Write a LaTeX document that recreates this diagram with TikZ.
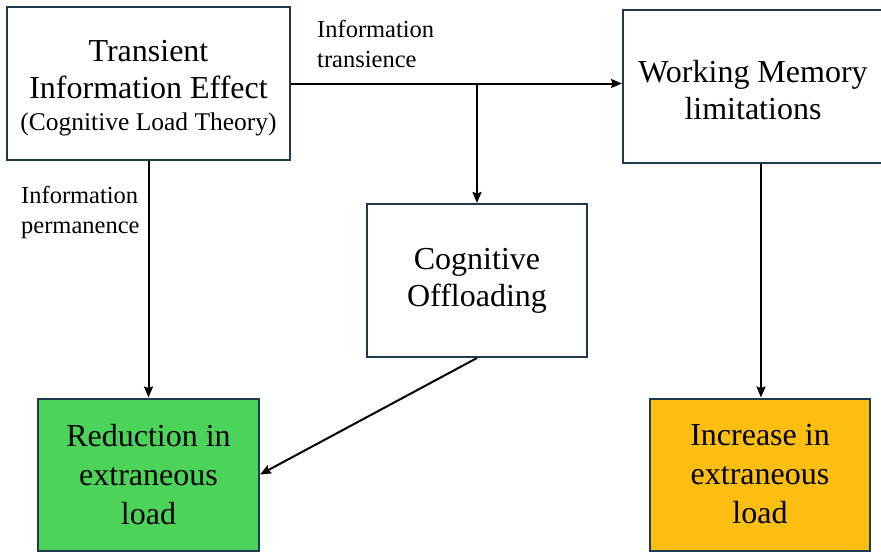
\documentclass[tikz,border=0pt]{standalone}
\usepackage{fontspec}
\setmainfont{Liberation Serif}
\usetikzlibrary{arrows.meta}
\definecolor{boxline}{HTML}{1F3A4C}
\definecolor{greenfill}{HTML}{4CD35A}
\definecolor{orangefill}{HTML}{FCBF10}
\tikzset{
  box/.style={draw=boxline, line width=2pt, fill=white, inner sep=0pt},
  boxtext/.style={align=center, inner sep=0pt, font=\fontsize{32}{37}\selectfont},
  lowtext/.style={boxtext, font=\fontsize{32}{39}\selectfont},
  lbl/.style={anchor=north west, align=left, inner sep=0pt, font=\fontsize{24.5}{30}\selectfont},
  conn/.style={draw=black, line width=2pt, -{Stealth[length=11pt,width=9pt,inset=1.5pt]}}
}
\begin{document}
\begin{tikzpicture}[x=1pt,y=-1pt]
\useasboundingbox (0,0) rectangle (881,552);
\fill[white] (0,0) rectangle (881,552);
\node[box, minimum width=283pt, minimum height=153pt] (tie) at (148.5,83.5) {};
\node[boxtext] (tietext) at ([yshift=-5pt]tie.center)
  {Transient\\Information Effect\\[-5pt]{\fontsize{25.5}{30}\selectfont(Cognitive Load Theory)}};
\node[box, minimum width=276pt, minimum height=153pt] (wm) at (761,86.5) {};
\node[boxtext] (wmtext) at (753,90) {Working Memory\\limitations};
\node[box, minimum width=220pt, minimum height=153pt] (co) at (477,280.5) {};
\node[boxtext] (cotext) at (co.center) {Cognitive\\Offloading};
\node[box, fill=greenfill, minimum width=221pt, minimum height=152pt] (red) at (148.5,474.5) {};
\node[lowtext] (redtext) at (red.center) {Reduction in\\extraneous\\load};
\node[box, fill=orangefill, minimum width=220pt, minimum height=152pt] (inc) at (760,474.5) {};
\node[lowtext] (inctext) at (inc.center) {Increase in\\extraneous\\load};
\node[lbl] (lt) at (317,20) {Information\\transience};
\node[lbl] (lp) at (21,186) {Information\\permanence};
\coordinate (junc) at (co.north |- tie.east);
\draw[conn] (tie.east) -- (tie.east -| wm.west);
\draw[conn] (junc) -- (co.north);
\draw[conn] (tie.south) -- (red.north);
\draw[conn] (co.south) -- (red.east);
\draw[conn] (wm.south) -- (wm.south |- inc.north);
\end{tikzpicture}
\end{document}
